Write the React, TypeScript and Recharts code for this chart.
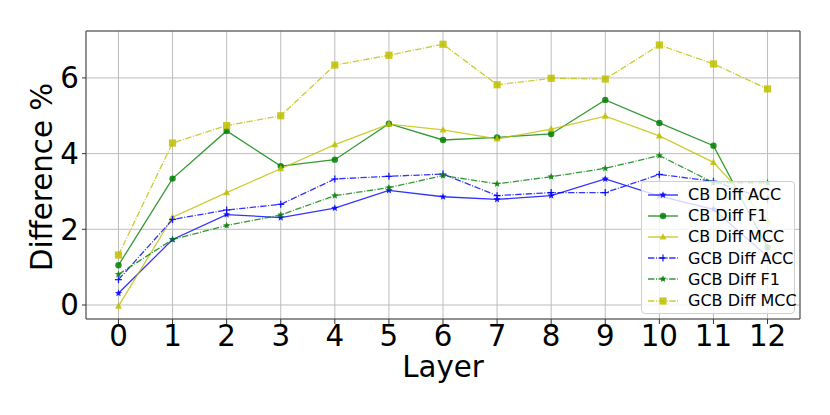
import React from 'react';
import { LineChart, Line, XAxis, YAxis, CartesianGrid, Legend, ReferenceArea } from 'recharts';

const layers = [0, 1, 2, 3, 4, 5, 6, 7, 8, 9, 10, 11, 12];
const cbAcc = [0.31, 1.73, 2.39, 2.31, 2.56, 3.03, 2.86, 2.79, 2.89, 3.33, 2.88, 2.53, 1.28];
const cbF1 = [1.05, 3.34, 4.6, 3.67, 3.84, 4.79, 4.36, 4.43, 4.52, 5.42, 4.81, 4.21, 1.52];
const cbMcc = [-0.03, 2.32, 2.97, 3.6, 4.24, 4.78, 4.63, 4.39, 4.65, 4.99, 4.47, 3.77, 2.22];
const gcbAcc = [0.67, 2.26, 2.51, 2.66, 3.33, 3.4, 3.46, 2.89, 2.97, 2.97, 3.45, 3.27, 2.79];
const gcbF1 = [0.81, 1.73, 2.1, 2.38, 2.89, 3.1, 3.42, 3.2, 3.39, 3.61, 3.95, 3.23, 3.23];
const gcbMcc = [1.32, 4.28, 4.74, 5.0, 6.34, 6.6, 6.89, 5.82, 5.99, 5.97, 6.87, 6.37, 5.71];
const yTicks = [0, 2, 4, 6];

const BLUE = '#0000ff';
const GREEN = '#008000';
const YELLOW = '#bfbf00';
const DASHDOT = '6.4 1.6 1 1.6';
const FONT = 'DejaVu Sans, sans-serif';

type Shape = 'star' | 'circle' | 'triangle' | 'plus' | 'square';

const series = [
    { key: 'cbAcc', name: 'CB Diff ACC', values: cbAcc, color: BLUE, dash: undefined, shape: 'star' as Shape },
    { key: 'cbF1', name: 'CB Diff F1', values: cbF1, color: GREEN, dash: undefined, shape: 'circle' as Shape },
    { key: 'cbMcc', name: 'CB Diff MCC', values: cbMcc, color: YELLOW, dash: undefined, shape: 'triangle' as Shape },
    { key: 'gcbAcc', name: 'GCB Diff ACC', values: gcbAcc, color: BLUE, dash: DASHDOT, shape: 'plus' as Shape },
    { key: 'gcbF1', name: 'GCB Diff F1', values: gcbF1, color: GREEN, dash: DASHDOT, shape: 'star' as Shape },
    { key: 'gcbMcc', name: 'GCB Diff MCC', values: gcbMcc, color: YELLOW, dash: DASHDOT, shape: 'square' as Shape },
];

const data = layers.map((layer, i) => {
    const row: any = { layer };
    series.forEach((s) => { row[s.key] = s.values[i]; });
    return row;
});

function starPoints(cx: number, cy: number, r: number) {
    const pts: string[] = [];
    for (let i = 0; i < 10; i++) {
        const rad = i % 2 === 0 ? r : r * 0.45;
        const a = -Math.PI / 2 + (i * Math.PI) / 5;
        pts.push(`${cx + rad * Math.cos(a)},${cy + rad * Math.sin(a)}`);
    }
    return pts.join(' ');
}

const Marker = ({ cx, cy, shape, color }: { cx: number; cy: number; shape: Shape; color: string }) => {
    if (cx == null || cy == null) return null;
    switch (shape) {
        case 'star':
            return <polygon points={starPoints(cx, cy, 3.8)} fill={color} fillOpacity={0.85} />;
        case 'circle':
            return <circle cx={cx} cy={cy} r={3.2} fill={color} fillOpacity={0.85} />;
        case 'triangle':
            return <polygon points={`${cx},${cy - 3.8} ${cx - 3.5},${cy + 2.6} ${cx + 3.5},${cy + 2.6}`} fill={color} fillOpacity={0.85} />;
        case 'plus':
            return (
                <g stroke={color} strokeWidth={1.3} strokeOpacity={0.85}>
                    <line x1={cx - 3.5} y1={cy} x2={cx + 3.5} y2={cy} />
                    <line x1={cx} y1={cy - 3.5} x2={cx} y2={cy + 3.5} />
                </g>
            );
        case 'square':
            return <rect x={cx - 3.6} y={cy - 3.6} width={7.2} height={7.2} fill={color} fillOpacity={0.85} />;
    }
    return null;
};

const LegendBox = () => (
    <div
        style={{
            width: 154,
            height: 133,
            boxSizing: 'border-box',
            background: 'rgba(255,255,255,0.8)',
            border: '1px solid #d0d0d0',
            borderRadius: 4,
            paddingTop: 2,
            fontFamily: FONT,
            fontSize: 16,
        }}
    >
        {series.map((s) => (
            <div key={s.key} style={{ display: 'flex', alignItems: 'center', height: 21.2 }}>
                <svg width={46} height={14} style={{ flex: 'none' }}>
                    <line x1={6} y1={7} x2={36} y2={7} stroke={s.color} strokeOpacity={0.8} strokeWidth={1.4} strokeDasharray={s.dash} />
                    <Marker cx={21} cy={7} shape={s.shape} color={s.color} />
                </svg>
                <span style={{ color: '#000', whiteSpace: 'nowrap' }}>{s.name}</span>
            </div>
        ))}
    </div>
);

export default function App() {
    return (
        <div style={{ position: 'absolute', left: 0, top: 0, width: 830, height: 415, background: '#fff' }}>
            <LineChart width={830} height={415} data={data} margin={{ top: 31, right: 30, left: 0, bottom: 0 }}>
                <CartesianGrid stroke="#bdbdbd" strokeWidth={1} />
                <XAxis
                    dataKey="layer"
                    type="number"
                    domain={[-0.6, 12.6]}
                    ticks={layers}
                    allowDataOverflow
                    height={96}
                    tickSize={5}
                    tickMargin={1}
                    axisLine={false}
                    tickLine={{ stroke: '#333' }}
                    tick={{ fill: '#000', fontSize: 29.3, fontFamily: FONT }}
                    interval={0}
                    label={() => (
                        <text x={443} y={367} textAnchor="middle" dominantBaseline="central" fontSize={29.3} fontFamily={FONT} fill="#000">
                            Layer
                        </text>
                    )}
                />
                <YAxis
                    type="number"
                    domain={[-0.37, 7.24]}
                    ticks={yTicks}
                    allowDataOverflow
                    width={86}
                    tickSize={4}
                    tickMargin={3}
                    axisLine={false}
                    tickLine={{ stroke: '#333' }}
                    tick={{ fill: '#000', fontSize: 29.3, fontFamily: FONT }}
                    label={() => (
                        <text x={42} y={177} transform="rotate(-90 42 177)" textAnchor="middle" dominantBaseline="central" fontSize={29.3} fontFamily={FONT} fill="#000">
                            Difference %
                        </text>
                    )}
                />
                <ReferenceArea x1={-0.6} x2={12.6} y1={-0.37} y2={7.24} fill="none" stroke="#444" strokeWidth={1} />
                {series.map((s) => (
                    <Line
                        key={s.key}
                        dataKey={s.key}
                        name={s.name}
                        type="linear"
                        stroke={s.color}
                        strokeOpacity={0.8}
                        strokeWidth={1.3}
                        strokeDasharray={s.dash}
                        isAnimationActive={false}
                        dot={(p: any) => <Marker key={`${s.key}-${p.index}`} cx={p.cx} cy={p.cy} shape={s.shape} color={s.color} />}
                        activeDot={false}
                    />
                ))}
                <Legend
                    layout="vertical"
                    align="center"
                    verticalAlign="middle"
                    content={() => <LegendBox />}
                    wrapperStyle={{ left: 641, top: 181, width: 154, height: 133 }}
                />
            </LineChart>
        </div>
    );
}
